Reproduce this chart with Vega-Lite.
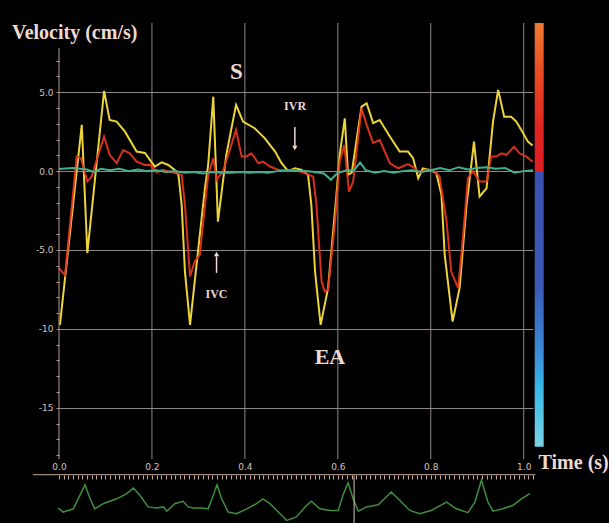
{
  "$schema": "https://vega.github.io/schema/vega-lite/v6.json",
  "autosize": {"type": "none"},
  "width": 474,
  "height": 436,
  "padding": {"left": 59, "top": 23, "right": 76, "bottom": 64},
  "background": "#000000",
  "config": {"view": {"stroke": null}},
  "datasets": {
    "yellow": [
      {"t":0.002,"v":-9.75},{"t":0.049,"v":2.93},{"t":0.061,"v":-5.2},{"t":0.097,"v":5.08},{"t":0.109,"v":3.24},{"t":0.124,"v":3.14},{"t":0.142,"v":2.5},{"t":0.167,"v":1.24},{"t":0.185,"v":1.15},{"t":0.206,"v":0.29},{"t":0.221,"v":0.56},{"t":0.235,"v":0.39},{"t":0.249,"v":0.08},{"t":0.257,"v":-0.24},{"t":0.264,"v":-2.14},{"t":0.271,"v":-6.37},{"t":0.282,"v":-9.75},{"t":0.292,"v":-7.0},{"t":0.314,"v":-1.09},{"t":0.321,"v":0.39},{"t":0.332,"v":4.72},{"t":0.342,"v":-3.2},{"t":0.36,"v":1.03},{"t":0.381,"v":4.2},{"t":0.396,"v":3.14},{"t":0.421,"v":2.72},{"t":0.443,"v":2.08},{"t":0.465,"v":1.24},{"t":0.479,"v":0.5},{"t":0.493,"v":0.0},{"t":0.508,"v":0.18},{"t":0.522,"v":0.08},{"t":0.536,"v":-0.24},{"t":0.543,"v":-2.14},{"t":0.551,"v":-6.37},{"t":0.563,"v":-9.75},{"t":0.579,"v":-7.42},{"t":0.597,"v":-1.5},{"t":0.604,"v":1.03},{"t":0.615,"v":3.35},{"t":0.622,"v":-0.24},{"t":0.63,"v":-0.1},{"t":0.651,"v":4.09},{"t":0.662,"v":4.3},{"t":0.676,"v":3.04},{"t":0.69,"v":3.24},{"t":0.712,"v":2.19},{"t":0.733,"v":1.24},{"t":0.751,"v":1.24},{"t":0.762,"v":0.82},{"t":0.773,"v":-0.45},{"t":0.783,"v":0.18},{"t":0.798,"v":0.08},{"t":0.812,"v":-0.13},{"t":0.823,"v":-1.5},{"t":0.83,"v":-5.31},{"t":0.847,"v":-9.54},{"t":0.862,"v":-7.42},{"t":0.877,"v":-2.14},{"t":0.886,"v":0.08},{"t":0.893,"v":1.87},{"t":0.905,"v":-1.61},{"t":0.92,"v":-1.09},{"t":0.934,"v":3.14},{"t":0.945,"v":5.15},{"t":0.958,"v":3.45},{"t":0.973,"v":3.45},{"t":0.984,"v":3.14},{"t":0.999,"v":2.4},{"t":1.009,"v":1.87},{"t":1.019,"v":1.62}
    ],
    "red": [
      {"t":0.0,"v":-6.15},{"t":0.013,"v":-6.6},{"t":0.038,"v":0.92},{"t":0.047,"v":0.82},{"t":0.061,"v":-0.66},{"t":0.07,"v":-0.35},{"t":0.097,"v":2.19},{"t":0.109,"v":1.03},{"t":0.124,"v":0.5},{"t":0.138,"v":1.34},{"t":0.152,"v":1.13},{"t":0.167,"v":0.6},{"t":0.185,"v":0.39},{"t":0.196,"v":0.4},{"t":0.21,"v":-0.07},{"t":0.224,"v":0.08},{"t":0.238,"v":-0.05},{"t":0.253,"v":-0.13},{"t":0.264,"v":-0.24},{"t":0.271,"v":-2.14},{"t":0.282,"v":-6.68},{"t":0.292,"v":-5.73},{"t":0.303,"v":-5.31},{"t":0.321,"v":-0.24},{"t":0.332,"v":0.82},{"t":0.339,"v":-0.56},{"t":0.353,"v":0.0},{"t":0.381,"v":2.61},{"t":0.393,"v":0.92},{"t":0.403,"v":0.92},{"t":0.414,"v":1.13},{"t":0.429,"v":0.5},{"t":0.439,"v":0.6},{"t":0.454,"v":0.29},{"t":0.472,"v":0.08},{"t":0.493,"v":0.0},{"t":0.508,"v":0.08},{"t":0.529,"v":-0.13},{"t":0.547,"v":-0.35},{"t":0.554,"v":-2.14},{"t":0.565,"v":-7.0},{"t":0.572,"v":-7.63},{"t":0.579,"v":-7.53},{"t":0.594,"v":-3.2},{"t":0.604,"v":0.6},{"t":0.614,"v":1.66},{"t":0.624,"v":-1.3},{"t":0.633,"v":-0.66},{"t":0.651,"v":3.98},{"t":0.662,"v":2.93},{"t":0.676,"v":1.77},{"t":0.69,"v":1.98},{"t":0.712,"v":0.5},{"t":0.73,"v":0.18},{"t":0.751,"v":0.44},{"t":0.766,"v":0.18},{"t":0.776,"v":-0.1},{"t":0.79,"v":0.1},{"t":0.809,"v":-0.03},{"t":0.819,"v":-0.35},{"t":0.834,"v":-3.2},{"t":0.844,"v":-6.37},{"t":0.859,"v":-7.42},{"t":0.869,"v":-4.25},{"t":0.88,"v":-0.45},{"t":0.891,"v":0.0},{"t":0.905,"v":-0.66},{"t":0.92,"v":-0.66},{"t":0.93,"v":0.92},{"t":0.941,"v":0.92},{"t":0.952,"v":1.13},{"t":0.963,"v":1.03},{"t":0.979,"v":1.55},{"t":0.991,"v":1.13},{"t":1.006,"v":0.92},{"t":1.019,"v":0.6}
    ],
    "teal": [
      {"t":0.0,"v":0.14},{"t":0.03,"v":0.2},{"t":0.06,"v":0.1},{"t":0.075,"v":-0.05},{"t":0.09,"v":0.15},{"t":0.11,"v":0.05},{"t":0.13,"v":0.15},{"t":0.15,"v":0.0},{"t":0.17,"v":0.1},{"t":0.19,"v":0.0},{"t":0.21,"v":0.05},{"t":0.23,"v":-0.05},{"t":0.25,"v":0.0},{"t":0.27,"v":-0.1},{"t":0.29,"v":-0.05},{"t":0.31,"v":-0.15},{"t":0.33,"v":-0.05},{"t":0.35,"v":-0.1},{"t":0.37,"v":-0.1},{"t":0.39,"v":-0.05},{"t":0.41,"v":-0.1},{"t":0.43,"v":-0.05},{"t":0.45,"v":-0.1},{"t":0.47,"v":0.0},{"t":0.49,"v":0.05},{"t":0.51,"v":0.0},{"t":0.53,"v":0.0},{"t":0.55,"v":-0.05},{"t":0.57,"v":-0.15},{"t":0.585,"v":-0.55},{"t":0.6,"v":-0.1},{"t":0.62,"v":0.05},{"t":0.635,"v":0.05},{"t":0.648,"v":0.55},{"t":0.66,"v":0.05},{"t":0.68,"v":-0.1},{"t":0.7,"v":0.0},{"t":0.72,"v":-0.1},{"t":0.74,"v":0.0},{"t":0.76,"v":0.05},{"t":0.78,"v":-0.05},{"t":0.8,"v":0.05},{"t":0.82,"v":0.2},{"t":0.84,"v":0.05},{"t":0.86,"v":0.25},{"t":0.88,"v":0.1},{"t":0.9,"v":0.2},{"t":0.92,"v":0.25},{"t":0.94,"v":0.15},{"t":0.96,"v":0.2},{"t":0.98,"v":-0.1},{"t":1.0,"v":0.0},{"t":1.02,"v":0.05}
    ],
    "ecg": [
      {"t":-0.002,"e":0.0},{"t":0.009,"e":-0.15},{"t":0.031,"e":-0.03},{"t":0.045,"e":0.47},{"t":0.056,"e":0.86},{"t":0.067,"e":0.34},{"t":0.077,"e":-0.03},{"t":0.095,"e":0.16},{"t":0.124,"e":0.34},{"t":0.146,"e":0.53},{"t":0.16,"e":0.74},{"t":0.174,"e":0.47},{"t":0.192,"e":0.04},{"t":0.21,"e":0.0},{"t":0.225,"e":0.04},{"t":0.232,"e":-0.12},{"t":0.249,"e":0.16},{"t":0.267,"e":0.25},{"t":0.278,"e":0.04},{"t":0.289,"e":0.0},{"t":0.307,"e":0.0},{"t":0.321,"e":-0.03},{"t":0.332,"e":0.47},{"t":0.34,"e":0.86},{"t":0.35,"e":0.34},{"t":0.364,"e":-0.15},{"t":0.382,"e":-0.21},{"t":0.404,"e":-0.03},{"t":0.425,"e":0.16},{"t":0.439,"e":0.34},{"t":0.454,"e":0.16},{"t":0.472,"e":-0.15},{"t":0.49,"e":-0.46},{"t":0.511,"e":-0.33},{"t":0.533,"e":0.1},{"t":0.543,"e":0.25},{"t":0.561,"e":-0.03},{"t":0.583,"e":-0.09},{"t":0.601,"e":-0.09},{"t":0.611,"e":0.47},{"t":0.622,"e":0.94},{"t":0.633,"e":0.34},{"t":0.644,"e":-0.12},{"t":0.662,"e":0.04},{"t":0.687,"e":0.12},{"t":0.715,"e":0.59},{"t":0.733,"e":0.29},{"t":0.755,"e":-0.09},{"t":0.776,"e":-0.21},{"t":0.801,"e":-0.09},{"t":0.834,"e":0.22},{"t":0.855,"e":-0.03},{"t":0.88,"e":-0.17},{"t":0.895,"e":0.22},{"t":0.909,"e":1.03},{"t":0.923,"e":0.22},{"t":0.934,"e":-0.12},{"t":0.955,"e":-0.03},{"t":0.977,"e":0.1},{"t":0.995,"e":0.34},{"t":1.013,"e":0.53}
    ],
    "gridx": [{"t":0.2},{"t":0.4},{"t":0.6},{"t":0.8},{"t":1.0}],
    "one": [{}]
  },
  "layer": [
    {
      "data": {"name": "gridx"},
      "mark": {"type": "rule", "color": "#8f8985", "strokeWidth": 1},
      "encoding": {
        "x": {
          "field": "t", "type": "quantitative",
          "scale": {"domain": [0, 1.02], "nice": false, "zero": false},
          "axis": {
            "orient": "bottom",
            "offset": 16,
            "tickCount": 100,
            "title": null,
            "domain": false,
            "grid": false,
            "tickSize": 4,
            "tickWidth": 1,
            "tickColor": "#c8aa9c",
            "labelExpr": "round(datum.value*100) % 20 === 0 ? format(datum.value, '.1f') : ''",
            "labelFont": "DejaVu Sans",
            "labelFontSize": 9,
            "labelColor": "#d8c4bc",
            "labelPadding": -17,
            "labelFlush": false,
            "labelOverlap": false
          }
        },
        "y": {"datum": 9.39, "type": "quantitative", "axis": null, "scale": {"domain": [-18.25, 9.39], "nice": false, "zero": false}},
        "y2": {"datum": -18.25}
      }
    },
    {
      "data": {"name": "one"},
      "mark": {
        "type": "rect",
        "fill": {
          "gradient": "linear", "x1": 0, "y1": 0, "x2": 0, "y2": 1,
          "stops": [
            {"offset": 0, "color": "#f07a30"},
            {"offset": 0.12, "color": "#ea4a22"},
            {"offset": 0.25, "color": "#e02420"},
            {"offset": 0.349, "color": "#e01e20"},
            {"offset": 0.35, "color": "#3c4fb2"},
            {"offset": 0.62, "color": "#3a58b8"},
            {"offset": 0.78, "color": "#3a8cd8"},
            {"offset": 0.86, "color": "#38b8e8"},
            {"offset": 1, "color": "#78d4e2"}
          ]
        }
      },
      "encoding": {
        "x": {"datum": 1.0237, "type": "quantitative"},
        "x2": {"datum": 1.043},
        "y": {"datum": 9.39, "type": "quantitative", "axis": null, "scale": {"domain": [-18.25, 9.39], "nice": false, "zero": false}},
        "y2": {"datum": -17.48}
      }
    },
    {
      "data": {"name": "yellow"},
      "mark": {"type": "line", "color": "#ecd43a", "strokeWidth": 2},
      "encoding": {
        "x": {"field": "t", "type": "quantitative"},
        "y": {
          "field": "v", "type": "quantitative",
          "scale": {"domain": [-18.25, 9.39], "nice": false, "zero": false},
          "axis": {
            "orient": "left",
            "values": [-18,-17,-16,-15,-14,-13,-12,-11,-10,-9,-8,-7,-6,-5,-4,-3,-2,-1,0,1,2,3,4,5,6,7],
            "title": null,
            "domain": false,
            "grid": true,
            "gridColor": "#8f8985",
            "gridWidth": 1,
            "gridOpacity": {"condition": {"test": "datum.value % 5 === 0", "value": 1}, "value": 0},
            "tickSize": 3,
            "tickColor": "#b09a92",
            "labelExpr": "datum.value % 5 !== 0 ? '' : replace(abs(datum.value) >= 10 ? format(datum.value, 'd') : format(datum.value, '.1f'), '\u2212', '-')",
            "labelFont": "DejaVu Sans",
            "labelFontSize": 9,
            "labelColor": "#d8c4bc",
            "labelPadding": 3,
            "labelOverlap": false
          }
        }
      }
    },
    {
      "data": {"name": "red"},
      "mark": {"type": "line", "color": "#e8341e", "strokeWidth": 2, "opacity": 0.92},
      "encoding": {
        "x": {"field": "t", "type": "quantitative"},
        "y": {"field": "v", "type": "quantitative", "axis": null, "scale": {"domain": [-18.25, 9.39], "nice": false, "zero": false}}
      }
    },
    {
      "data": {"name": "teal"},
      "mark": {"type": "line", "color": "#44ae8e", "strokeWidth": 2},
      "encoding": {
        "x": {"field": "t", "type": "quantitative"},
        "y": {"field": "v", "type": "quantitative", "axis": null, "scale": {"domain": [-18.25, 9.39], "nice": false, "zero": false}}
      }
    },
    {
      "data": {"name": "one"},
      "mark": {"type": "rule", "color": "#b09a92", "strokeWidth": 1},
      "encoding": {
        "x": {"datum": 0, "type": "quantitative"},
        "y": {"datum": 7.8, "type": "quantitative", "axis": null, "scale": {"domain": [-18.25, 9.39], "nice": false, "zero": false}},
        "y2": {"datum": -18.25}
      }
    },
    {
      "data": {"name": "one"},
      "mark": {"type": "text", "font": "Liberation Serif", "fontWeight": "bold", "fontSize": 20, "color": "#eedad0", "align": "left", "baseline": "alphabetic"},
      "encoding": {
        "x": {"datum": -0.101, "type": "quantitative"},
        "y": {"datum": 8.35, "type": "quantitative", "axis": null, "scale": {"domain": [-18.25, 9.39], "nice": false, "zero": false}},
        "text": {"value": "Velocity (cm/s)"}
      }
    },
    {
      "data": {"name": "one"},
      "mark": {"type": "text", "font": "Liberation Serif", "fontWeight": "bold", "fontSize": 20, "color": "#eedad0", "align": "left", "baseline": "alphabetic"},
      "encoding": {
        "x": {"datum": 1.032, "type": "quantitative"},
        "y": {"datum": -18.87, "type": "quantitative", "axis": null, "scale": {"domain": [-18.25, 9.39], "nice": false, "zero": false}},
        "text": {"value": "Time (s)"}
      }
    },
    {
      "data": {"name": "one"},
      "mark": {"type": "text", "font": "Liberation Serif", "fontWeight": "bold", "fontSize": 23, "color": "#eedad0", "align": "center", "baseline": "alphabetic"},
      "encoding": {
        "x": {"datum": 0.3817, "type": "quantitative"},
        "y": {"datum": 5.84, "type": "quantitative", "axis": null, "scale": {"domain": [-18.25, 9.39], "nice": false, "zero": false}},
        "text": {"value": "S"}
      }
    },
    {
      "data": {"name": "one"},
      "mark": {"type": "text", "font": "Liberation Serif", "fontWeight": "bold", "fontSize": 22, "color": "#eedad0", "align": "center", "baseline": "alphabetic"},
      "encoding": {
        "x": {"datum": 0.583, "type": "quantitative"},
        "y": {"datum": -12.22, "type": "quantitative", "axis": null, "scale": {"domain": [-18.25, 9.39], "nice": false, "zero": false}},
        "text": {"value": "EA"}
      }
    },
    {
      "data": {"name": "one"},
      "mark": {"type": "text", "font": "Liberation Serif", "fontWeight": "bold", "fontSize": 12, "color": "#eedad0", "align": "center", "baseline": "alphabetic"},
      "encoding": {
        "x": {"datum": 0.508, "type": "quantitative"},
        "y": {"datum": 3.88, "type": "quantitative", "axis": null, "scale": {"domain": [-18.25, 9.39], "nice": false, "zero": false}},
        "text": {"value": "IVR"}
      }
    },
    {
      "data": {"name": "one"},
      "mark": {"type": "text", "font": "Liberation Serif", "fontWeight": "bold", "fontSize": 12, "color": "#eedad0", "align": "center", "baseline": "alphabetic"},
      "encoding": {
        "x": {"datum": 0.339, "type": "quantitative"},
        "y": {"datum": -8.05, "type": "quantitative", "axis": null, "scale": {"domain": [-18.25, 9.39], "nice": false, "zero": false}},
        "text": {"value": "IVC"}
      }
    },
    {
      "data": {"name": "one"},
      "mark": {"type": "rule", "color": "#eedad0", "strokeWidth": 1.5},
      "encoding": {
        "x": {"datum": 0.5075, "type": "quantitative"},
        "y": {"datum": 2.79, "type": "quantitative", "axis": null, "scale": {"domain": [-18.25, 9.39], "nice": false, "zero": false}},
        "y2": {"datum": 1.6}
      }
    },
    {
      "data": {"name": "one"},
      "mark": {"type": "point", "shape": "triangle-down", "filled": true, "size": 28, "color": "#eedad0", "opacity": 1},
      "encoding": {
        "x": {"datum": 0.5075, "type": "quantitative"},
        "y": {"datum": 1.47, "type": "quantitative", "axis": null, "scale": {"domain": [-18.25, 9.39], "nice": false, "zero": false}}
      }
    },
    {
      "data": {"name": "one"},
      "mark": {"type": "rule", "color": "#eedad0", "strokeWidth": 1.5},
      "encoding": {
        "x": {"datum": 0.339, "type": "quantitative"},
        "y": {"datum": -6.45, "type": "quantitative", "axis": null, "scale": {"domain": [-18.25, 9.39], "nice": false, "zero": false}},
        "y2": {"datum": -5.4}
      }
    },
    {
      "data": {"name": "one"},
      "mark": {"type": "point", "shape": "triangle-up", "filled": true, "size": 28, "color": "#eedad0", "opacity": 1},
      "encoding": {
        "x": {"datum": 0.339, "type": "quantitative"},
        "y": {"datum": -5.25, "type": "quantitative", "axis": null, "scale": {"domain": [-18.25, 9.39], "nice": false, "zero": false}}
      }
    },
    {
      "data": {"name": "ecg"},
      "mark": {"type": "line", "color": "#3e8e3e", "strokeWidth": 1.5},
      "encoding": {
        "x": {"field": "t", "type": "quantitative"},
        "y": {"field": "e", "type": "quantitative", "axis": null, "scale": {"domain": [1.8148, 17.963], "nice": false, "zero": false}}
      }
    },
    {
      "data": {"name": "one"},
      "mark": {"type": "rule", "color": "#c8aa9c", "strokeWidth": 1},
      "encoding": {
        "x": {"datum": -0.056, "type": "quantitative"},
        "x2": {"datum": 1.025},
        "y": {"datum": 1.233, "type": "quantitative", "axis": null, "scale": {"domain": [1.8148, 17.963], "nice": false, "zero": false}}
      }
    },
    {
      "data": {"name": "one"},
      "mark": {"type": "rule", "color": "#d8c0b8", "strokeWidth": 1},
      "encoding": {
        "x": {"datum": 0.635, "type": "quantitative"},
        "y": {"datum": 1.2, "type": "quantitative", "axis": null, "scale": {"domain": [1.8148, 17.963], "nice": false, "zero": false}},
        "y2": {"datum": -0.6}
      }
    }
  ],
  "resolve": {"scale": {"y": "independent"}}
}
